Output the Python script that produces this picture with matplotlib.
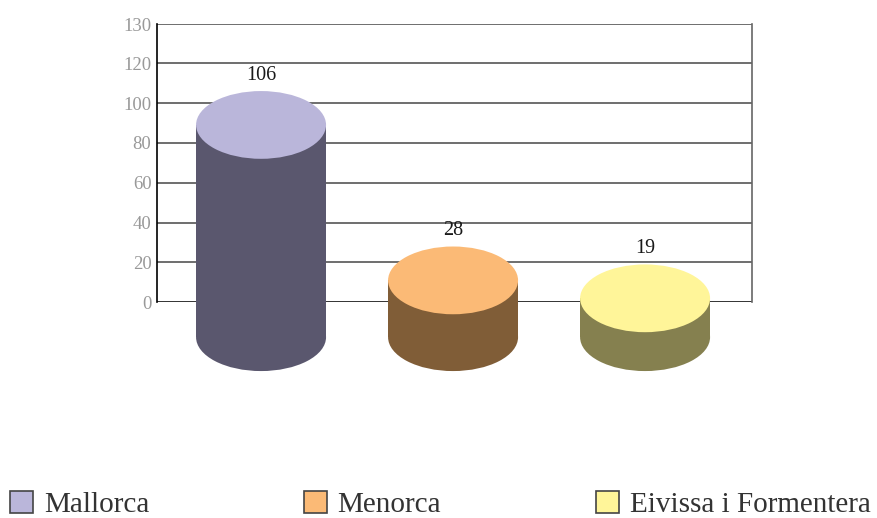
import numpy as np
import matplotlib
matplotlib.use("Agg")
import matplotlib.pyplot as plt
from matplotlib.patches import Ellipse, Rectangle, Patch

# data
islands = ["Mallorca", "Menorca", "Eivissa i Formentera"]
values = [106, 28, 19]
top_colors = ["#bab6da", "#fbba76", "#fff599"]
side_colors = ["#5a576e", "#805d37", "#85804f"]
yticks = [0, 20, 40, 60, 80, 100, 120, 130]

plt.rcParams['font.family'] = ['Liberation Serif', 'DejaVu Serif']

fig = plt.figure(figsize=(8.77, 5.18), dpi=100)
ax = fig.add_axes([0.179, 0.4164, 0.6785, 0.5367])

# the top band (120-130) is drawn taller than the rest in the original
def fwd(y):
    y = np.asarray(y, dtype=float)
    return np.where(y <= 120, y, 120 + (y - 120) * 1.95)

def inv(y):
    y = np.asarray(y, dtype=float)
    return np.where(y <= 120, y, 120 + (y - 120) / 1.95)

ax.set_yscale('function', functions=(fwd, inv))
ax.set_ylim(0, 130)
ax.set_xlim(-0.542, 2.557)

for t in yticks[1:]:
    ax.axhline(t, color="#555555", lw=1.2, zorder=0)
ax.axhline(0, color="#333333", lw=1.4, zorder=0)

ax.set_yticks(yticks)
ax.set_xticks([])
ax.tick_params(axis='y', length=0, pad=4, labelsize=13.5, labelcolor="#999999")
for s in ["top", "bottom"]:
    ax.spines[s].set_visible(False)
ax.spines["left"].set_color("black")
ax.spines["left"].set_linewidth(1.2)
ax.spines["right"].set_color("#666666")
ax.spines["right"].set_linewidth(1.2)

w = 0.677      # cylinder width (x units)
eh = 34        # ellipse full height (y units)
base = -17.5   # centre of bottom ellipse

for i, (v, tc, sc) in enumerate(zip(values, top_colors, side_colors)):
    top = v - eh / 2
    ax.add_patch(Ellipse((i, base), w, eh, facecolor=sc, edgecolor='none',
                         clip_on=False, zorder=3))
    ax.add_patch(Rectangle((i - w / 2, base), w, top - base, facecolor=sc,
                           edgecolor='none', clip_on=False, zorder=3))
    ax.add_patch(Ellipse((i, top), w, eh, facecolor=tc, edgecolor='none',
                         clip_on=False, zorder=4))
    ax.text(i, v + 8, str(v), ha='center', va='center', fontsize=14.5,
            color="#1a1a1a", zorder=5)

handles = [Patch(facecolor=c, edgecolor="#444444", linewidth=1.2) for c in top_colors]
fig.legend(handles, islands, loc='lower left', bbox_to_anchor=(10 / 877, 0.0),
           ncol=3, frameon=False, fontsize=21, handlelength=0.78,
           handleheight=0.78, handletextpad=0.38, columnspacing=5.3,
           labelcolor="#333333", borderpad=0, borderaxespad=0)

fig.savefig("out.png", dpi=100)
